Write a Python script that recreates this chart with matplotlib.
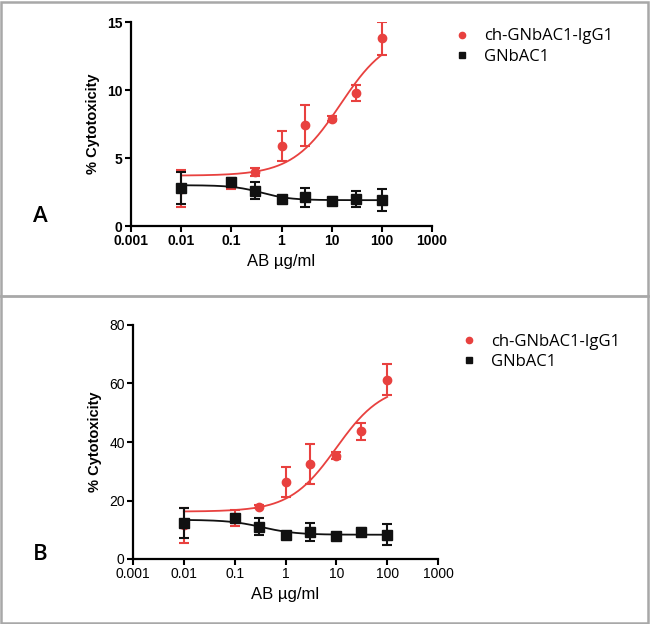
import numpy as np
import matplotlib
matplotlib.use('Agg')
import matplotlib.pyplot as plt
from matplotlib.lines import Line2D

plt.rcParams['font.family'] = ['Liberation Sans', 'DejaVu Sans']

# concentrations (µg/ml)
conc = [0.01, 0.1, 0.3, 1, 3, 10, 30, 100]
xticks = [0.001, 0.01, 0.1, 1, 10, 100, 1000]
xtick_labels = ['0.001', '0.01', '0.1', '1', '10', '100', '1000']

# panel A
a_red = [2.75, 3.1, 4.0, 5.9, 7.4, 7.9, 9.8, 13.8]
a_red_err = [1.35, 0.4, 0.3, 1.1, 1.5, 0.2, 0.6, 1.2]
a_blk = [2.8, 3.2, 2.6, 2.0, 2.1, 1.85, 2.0, 1.9]
a_blk_err = [1.2, 0.3, 0.6, 0.2, 0.7, 0.1, 0.6, 0.8]
# fitted curves: bottom, top, EC50, hill
a_red_fit = [3.7, 14.2, 15.0, 0.9]
a_blk_fit = [3.0, 1.9, 0.4, 1.5]

# panel B
b_red = [11.5, 14.0, 17.8, 26.3, 32.5, 35.3, 43.6, 61.2]
b_red_err = [6.0, 2.6, 0.5, 5.0, 6.7, 1.2, 3.0, 5.3]
b_blk = [12.3, 14.0, 11.1, 8.3, 9.2, 8.0, 9.2, 8.3]
b_blk_err = [5.0, 1.5, 3.0, 1.0, 3.0, 0.8, 1.5, 3.5]
b_red_fit = [16.2, 59.8, 10.0, 0.95]
b_blk_fit = [13.4, 8.3, 0.35, 1.3]

red = '#e8413f'
blk = '#111111'


def sigmoid(x, p):
    lo, hi, ec50, h = p
    return lo + (hi - lo) / (1 + (ec50 / x) ** h)


W, H = 650, 624
fig = plt.figure(figsize=(W / 100, H / 100), dpi=100)


def panel(rect, red_y, red_e, blk_y, blk_e, red_p, blk_p, ymax, ystep, bold, leg_xy, letter_y, letter):
    l, t, r, b = rect
    ax = fig.add_axes([l / W, 1 - b / H, (r - l) / W, (b - t) / H])
    xs = np.logspace(-2, 2, 200)
    ax.plot(xs, sigmoid(xs, red_p), color=red, lw=1.3, zorder=2)
    ax.plot(xs, sigmoid(xs, blk_p), color=blk, lw=1.3, zorder=3)
    ax.errorbar(conc, red_y, yerr=red_e, fmt='none', ecolor=red, elinewidth=1.5,
                capsize=3.5, capthick=1.5, zorder=2)
    ax.plot(conc, red_y, 'o', color=red, ms=6, label='ch-GNbAC1-IgG1', zorder=4)
    ax.errorbar(conc, blk_y, yerr=blk_e, fmt='none', ecolor=blk, elinewidth=1.5,
                capsize=3.5, capthick=1.5, zorder=5)
    ax.plot(conc, blk_y, 's', color=blk, ms=6.5, label='GNbAC1', zorder=6)

    ax.set_xscale('log')
    ax.set_xlim(0.001, 1000)
    ax.set_ylim(0, ymax)
    ax.set_xticks(xticks)
    ax.set_xticklabels(xtick_labels)
    ax.minorticks_off()
    ax.set_yticks(np.arange(0, ymax + 1, ystep))
    for s in ['top', 'right']:
        ax.spines[s].set_visible(False)
    for s in ['left', 'bottom']:
        ax.spines[s].set_linewidth(1.6)
    ax.tick_params(direction='out', length=4, width=1.5, labelsize=10, pad=2)
    w = 'bold' if bold else 'normal'
    for lab in ax.get_xticklabels() + ax.get_yticklabels():
        lab.set_fontweight(w)
    ax.set_xlabel('AB µg/ml', fontsize=12, labelpad=4)
    ax.set_ylabel('% Cytotoxicity', fontsize=10.5, fontweight='bold', labelpad=5)

    ax.legend(loc='center left', bbox_to_anchor=(leg_xy[0] / W, 1 - leg_xy[1] / H),
              bbox_transform=fig.transFigure, frameon=False,
              prop={'family': 'Open Sans', 'size': 12}, handlelength=1, markerscale=0.75,
              handletextpad=0.8, labelspacing=0.25, borderpad=0, borderaxespad=0)
    fig.text(40 / W, 1 - letter_y / H, letter, fontsize=16, fontweight='semibold',
             family='Open Sans', ha='center', va='center')
    return ax


panel((131, 22, 432, 226), a_red, a_red_err, a_blk, a_blk_err, a_red_fit, a_blk_fit,
      15, 5, True, (454, 46.5), 217, 'A')
panel((133, 325, 438, 559), b_red, b_red_err, b_blk, b_blk_err, b_red_fit, b_blk_fit,
      80, 20, False, (461, 352), 555, 'B')

# frame and divider
gray = '#a8a8a8'
fig.add_artist(plt.Rectangle((1 / W, 1 / H), 1 - 3 / W, 1 - 3 / H, transform=fig.transFigure,
                             fill=False, edgecolor=gray, lw=1.8))
fig.add_artist(Line2D([1 / W, 1 - 2 / W], [1 - 296 / H, 1 - 296 / H], transform=fig.transFigure,
                      color=gray, lw=2))

fig.savefig('out.png', dpi=100)
